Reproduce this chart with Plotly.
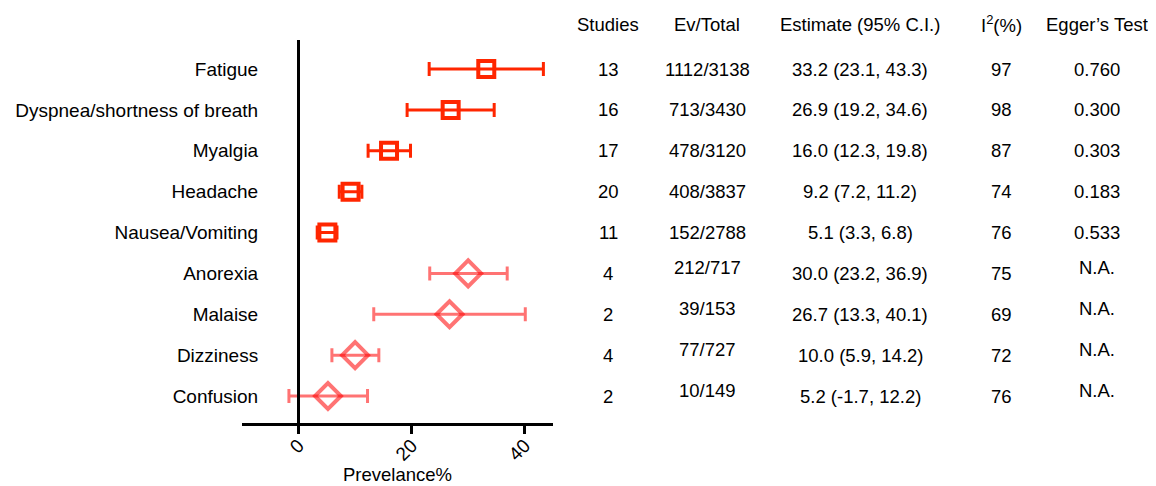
import plotly.graph_objects as go

# ---- data ----
symptoms = ["Fatigue", "Dyspnea/shortness of breath", "Myalgia", "Headache",
            "Nausea/Vomiting", "Anorexia", "Malaise", "Dizziness", "Confusion"]
estimate = [33.2, 26.9, 16.0, 9.2, 5.1, 30.0, 26.7, 10.0, 5.2]
ci_low = [23.1, 19.2, 12.3, 7.2, 3.3, 23.2, 13.3, 5.9, -1.7]
ci_high = [43.3, 34.6, 19.8, 11.2, 6.8, 36.9, 40.1, 14.2, 12.2]
studies = ["13", "16", "17", "20", "11", "4", "2", "4", "2"]
ev_total = ["1112/3138", "713/3430", "478/3120", "408/3837", "152/2788",
            "212/717", "39/153", "77/727", "10/149"]
estimate_text = ["33.2 (23.1, 43.3)", "26.9 (19.2, 34.6)", "16.0 (12.3, 19.8)",
                 "9.2 (7.2, 11.2)", "5.1 (3.3, 6.8)", "30.0 (23.2, 36.9)",
                 "26.7 (13.3, 40.1)", "10.0 (5.9, 14.2)", "5.2 (-1.7, 12.2)"]
i2 = ["97", "98", "87", "74", "76", "75", "69", "72", "76"]
egger = ["0.760", "0.300", "0.303", "0.183", "0.533", "N.A.", "N.A.", "N.A.", "N.A."]
headers = ["Studies", "Ev/Total", "Estimate (95% C.I.)", "I<sup>2</sup>(%)", "Egger\u2019s Test"]
x_ticks = [0, 20, 40]
x_title = "Prevelance%"

# ---- styling ----
FONT = "Liberation Sans, Arial, Helvetica, sans-serif"
FS = 19
FS_T = 18.5
OFF = 8  # page body margin
W, H = 1156 - OFF, 486 - OFF
PX_L, PX_R, PX_T, PX_B = 242, 553, 40, 423  # plot area in page pixels
L, T = PX_L - OFF, PX_T - OFF
R, B = W - (PX_R - OFF), H - (PX_B - OFF)
PW = PX_R - PX_L
PH = PX_B - PX_T

n_main = 5
groups = [
    (slice(0, n_main), "rgb(255,38,0)", "square-open", 16),
    (slice(n_main, len(symptoms)), "rgba(255,0,0,0.55)", "diamond-open", 20),
]

fig = go.Figure()
idx = list(range(len(symptoms)))
for sl, col, sym, sz in groups:
    ys = idx[sl]
    xs = estimate[sl]
    plus = [h - e for h, e in zip(ci_high[sl], xs)]
    minus = [e - l for e, l in zip(xs, ci_low[sl])]
    fig.add_trace(go.Scatter(
        x=xs, y=ys, mode="markers",
        marker=dict(symbol=sym, size=sz, color=col, line=dict(width=4, color=col)),
        error_x=dict(type="data", array=plus, arrayminus=minus, symmetric=False,
                     color=col, thickness=3, width=7),
        showlegend=False, cliponaxis=False,
    ))

fig.update_xaxes(
    range=[-10, 45], tickvals=x_ticks, ticktext=[str(v) for v in x_ticks],
    tickangle=-45, ticks="outside", ticklen=8, tickwidth=3, tickcolor="black",
    showline=True, linewidth=3, linecolor="black", showgrid=False,
    zeroline=False, automargin=False, ticklabelstandoff=-7,
    tickfont=dict(family=FONT, size=FS, color="black"),
)
zero_pos = (298 - PX_L) / PW
fig.update_yaxes(
    range=[len(symptoms) - 1 + 0.66, -0.71], tickvals=idx, ticktext=symptoms,
    anchor="free", position=zero_pos, showline=True, linewidth=3,
    linecolor="black", showgrid=False, zeroline=False, ticks="", automargin=False,
    ticklabelstandoff=35, tickfont=dict(family=FONT, size=FS, color="black"),
)

# x axis title
fig.add_annotation(x=0.5, xref="paper", y=-(474 - PX_B) / PH, yref="paper",
                   text=x_title, showarrow=False, xanchor="center", yanchor="middle",
                   font=dict(family=FONT, size=18.5, color="black"))

# ---- table annotations ----
col_x = [608, 707, 860, 1001, 1097]
columns = [studies, ev_total, estimate_text, i2, egger]
header_py = 24
for cx, htxt in zip(col_x, headers):
    fig.add_annotation(x=(cx - PX_L) / PW, xref="paper",
                       y=1 + (PX_T - header_py) / PH, yref="paper",
                       text=htxt, showarrow=False, xanchor="center", yanchor="middle",
                       font=dict(family=FONT, size=FS_T, color="black"))
for ci, (cx, vals) in enumerate(zip(col_x, columns)):
    for r, v in enumerate(vals):
        ys = 0
        if r >= n_main and ci in (1, 4):
            ys = 6
        fig.add_annotation(x=(cx - PX_L) / PW, xref="paper", y=r, yref="y",
                           text=v, showarrow=False, xanchor="center", yanchor="middle",
                           yshift=ys, font=dict(family=FONT, size=FS_T, color="black"))

fig.update_layout(
    width=W, height=H, margin=dict(l=L, r=R, t=T, b=B),
    plot_bgcolor="white", paper_bgcolor="white",
)
fig.write_html("out.html")
